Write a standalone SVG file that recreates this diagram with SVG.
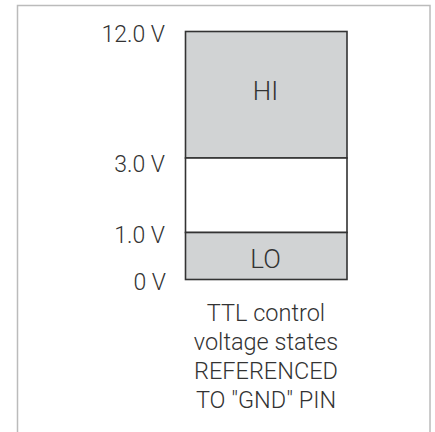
<svg xmlns="http://www.w3.org/2000/svg" width="435" height="432" viewBox="0 0 435 432">
<style>
text{font-family:Roboto,"Liberation Sans",sans-serif;font-weight:300;fill:#333}
.lbl{font-size:23px;text-anchor:end}
.st{font-size:26px;text-anchor:middle}
.cap{font-size:23.5px;text-anchor:middle}
.band{stroke:#333;stroke-width:1.6}
</style>
<rect x="0" y="0" width="435" height="432" fill="#fff"/>
<rect x="17.5" y="5.5" width="412.5" height="440" fill="none" stroke="#bbbbbb" stroke-width="1.5"/>
<g id="hi"><rect class="band" x="185.5" y="31.5" width="161.5" height="126.5" fill="#d1d3d4"/><text class="st" x="265.5" y="100">HI</text></g>
<g id="mid"><rect class="band" x="185.5" y="158" width="161.5" height="74.5" fill="#fff"/></g>
<g id="lo"><rect class="band" x="185.5" y="232.5" width="161.5" height="47" fill="#d1d3d4"/><text class="st" x="265.5" y="268">LO</text></g>
<g id="labels">
<text class="lbl" x="165" y="42">12.0 V</text>
<text class="lbl" x="165" y="172">3.0 V</text>
<text class="lbl" x="165" y="243">1.0 V</text>
<text class="lbl" x="166" y="290">0 V</text>
</g>
<g id="caption">
<text class="cap" x="266" y="321">TTL control</text>
<text class="cap" x="266" y="350">voltage states</text>
<text class="cap" x="266" y="379">REFERENCED</text>
<text class="cap" x="266" y="408">TO "GND" PIN</text>
</g>
</svg>
